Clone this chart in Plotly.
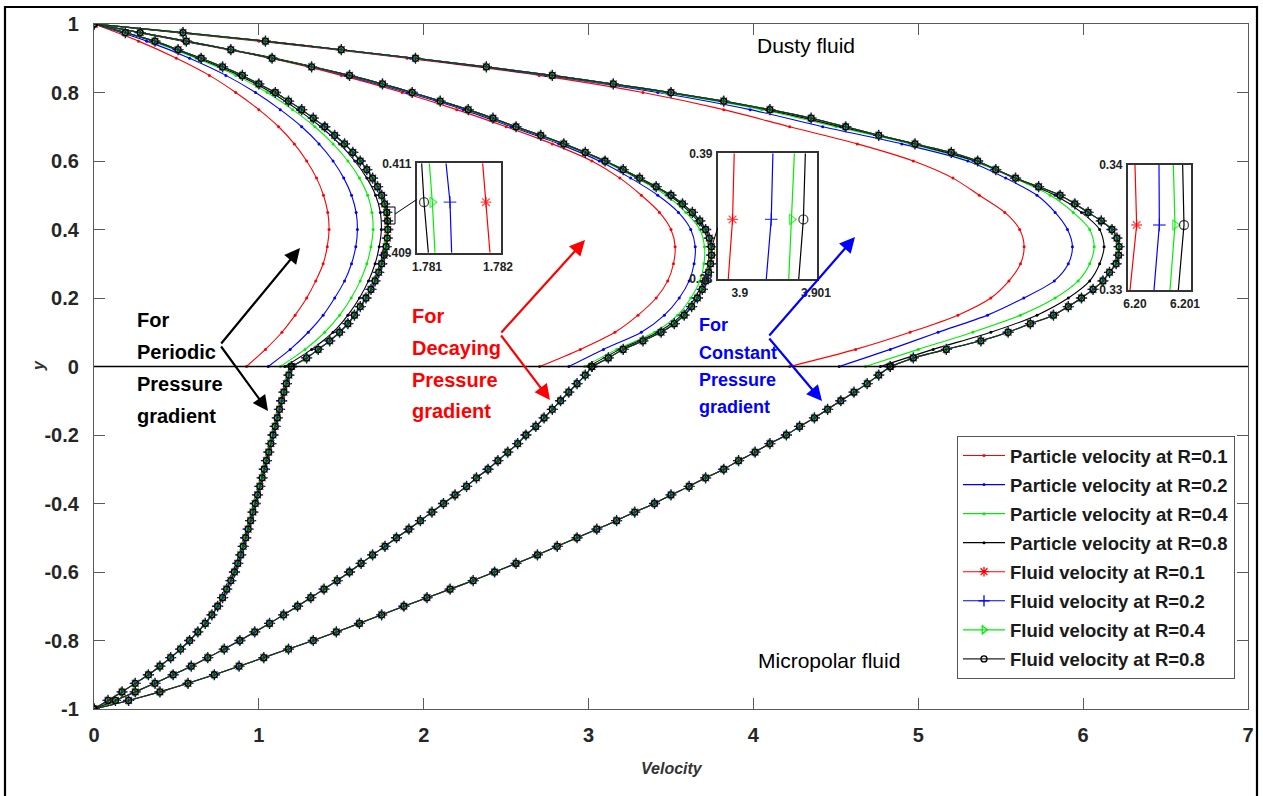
import plotly.graph_objects as go

# ---------------- data ----------------
X_TICKS = [0, 1, 2, 3, 4, 5, 6, 7]
X_TICK_TEXT = ["0", "1", "2", "3", "4", "5", "6", "7"]
Y_TICKS = [-1, -0.8, -0.6, -0.4, -0.2, 0, 0.2, 0.4, 0.6, 0.8, 1]
Y_TICK_TEXT = ["-1", "-0.8", "-0.6", "-0.4", "-0.2", "0", "0.2", "0.4", "0.6", "0.8", "1"]

# particle-velocity y grid (dusty-fluid region)
Y_P = [0, 0.05, 0.1, 0.15, 0.2, 0.25, 0.3, 0.35, 0.4, 0.45, 0.5,
       0.55, 0.6, 0.65, 0.7, 0.75, 0.8, 0.85, 0.9, 0.95, 1.0]
# fluid-velocity y grids
Y_FU = [0, 0.025, 0.05, 0.075, 0.1, 0.125, 0.15, 0.175, 0.2, 0.225, 0.25, 0.275, 0.3, 0.325,
        0.35, 0.375, 0.4, 0.425, 0.45, 0.475, 0.5, 0.525, 0.55, 0.575, 0.6, 0.625, 0.65, 0.675,
        0.7, 0.725, 0.75, 0.775, 0.8, 0.825, 0.85, 0.875, 0.9, 0.925, 0.95, 0.975, 1.0]
Y_FD = [-1.0, -0.975, -0.95, -0.925, -0.9, -0.875, -0.85, -0.825, -0.8, -0.775, -0.75, -0.725,
        -0.7, -0.675, -0.65, -0.625, -0.6, -0.575, -0.55, -0.525, -0.5, -0.475, -0.45, -0.425,
        -0.4, -0.375, -0.35, -0.325, -0.3, -0.275, -0.25, -0.225, -0.2, -0.175, -0.15, -0.125,
        -0.1, -0.075, -0.05, -0.025, 0.0]

# Particle velocity, periodic pressure gradient
P_PER_R01 = [0.925, 1.04, 1.14, 1.22, 1.29, 1.345, 1.39, 1.415, 1.426, 1.418, 1.392, 1.35, 1.29, 1.215, 1.12, 1.0, 0.86, 0.70, 0.50, 0.27, 0]
P_PER_R02 = [1.057, 1.19, 1.30, 1.39, 1.46, 1.52, 1.562, 1.588, 1.598, 1.59, 1.562, 1.515, 1.45, 1.365, 1.26, 1.13, 0.98, 0.80, 0.58, 0.32, 0]
P_PER_R04 = [1.131, 1.28, 1.40, 1.49, 1.56, 1.615, 1.655, 1.68, 1.693, 1.686, 1.66, 1.61, 1.54, 1.45, 1.34, 1.205, 1.05, 0.86, 0.62, 0.35, 0]
P_PER_R08 = [1.158, 1.32, 1.45, 1.54, 1.61, 1.665, 1.705, 1.73, 1.743, 1.737, 1.708, 1.655, 1.582, 1.49, 1.375, 1.235, 1.075, 0.88, 0.635, 0.36, 0]
# Particle velocity, decaying pressure gradient
P_DEC_R01 = [2.703, 2.95, 3.16, 3.30, 3.41, 3.48, 3.515, 3.525, 3.50, 3.43, 3.32, 3.19, 3.02, 2.78, 2.50, 2.20, 1.87, 1.50, 1.07, 0.54, 0]
P_DEC_R02 = [2.88, 3.09, 3.32, 3.46, 3.55, 3.61, 3.64, 3.647, 3.62, 3.545, 3.42, 3.255, 3.065, 2.82, 2.53, 2.24, 1.90, 1.525, 1.085, 0.545, 0]
P_DEC_R04 = [2.976, 3.17, 3.40, 3.54, 3.62, 3.675, 3.70, 3.703, 3.675, 3.59, 3.47, 3.29, 3.09, 2.84, 2.55, 2.26, 1.92, 1.54, 1.095, 0.55, 0]
P_DEC_R08 = [3.00, 3.19, 3.42, 3.565, 3.645, 3.695, 3.725, 3.728, 3.70, 3.615, 3.49, 3.30, 3.10, 2.85, 2.555, 2.27, 1.93, 1.55, 1.10, 0.555, 0]
# Particle velocity, constant pressure gradient
P_CON_R01 = [4.22, 4.62, 4.95, 5.24, 5.44, 5.55, 5.62, 5.642, 5.615, 5.525, 5.37, 5.21, 4.97, 4.63, 4.22, 3.82, 3.33, 2.70, 1.90, 1.00, 0]
P_CON_R02 = [4.52, 4.83, 5.12, 5.42, 5.64, 5.825, 5.91, 5.935, 5.905, 5.83, 5.72, 5.53, 5.30, 4.90, 4.42, 3.98, 3.42, 2.74, 1.92, 1.02, 0]
P_CON_R04 = [4.68, 5.00, 5.33, 5.62, 5.83, 5.97, 6.04, 6.067, 6.04, 5.94, 5.80, 5.58, 5.33, 4.95, 4.50, 4.05, 3.46, 2.76, 1.94, 1.03, 0]
P_CON_R08 = [4.77, 5.09, 5.44, 5.72, 5.91, 6.04, 6.10, 6.127, 6.10, 5.99, 5.83, 5.59, 5.345, 4.97, 4.53, 4.08, 3.48, 2.77, 1.945, 1.035, 0]

# Fluid velocity (curves for R = 0.1 ... 0.8 coincide at plot scale)
F_PER_DN = [0, 0.085, 0.17, 0.25, 0.33, 0.40, 0.465, 0.525, 0.58, 0.63, 0.675, 0.715, 0.75, 0.78, 0.805, 0.83, 0.852, 0.872, 0.89, 0.905,
            0.92, 0.935, 0.95, 0.964, 0.978, 0.992, 1.006, 1.02, 1.033, 1.046, 1.06, 1.073, 1.086, 1.099, 1.112, 1.125, 1.138, 1.152, 1.167, 1.182, 1.198]
F_PER_UP = [1.198, 1.29, 1.36, 1.43, 1.49, 1.54, 1.58, 1.615, 1.65, 1.68, 1.705, 1.727, 1.745, 1.76, 1.772, 1.779, 1.782, 1.781, 1.776, 1.763,
            1.745, 1.72, 1.69, 1.655, 1.615, 1.57, 1.52, 1.46, 1.40, 1.33, 1.26, 1.18, 1.10, 1.00, 0.90, 0.78, 0.65, 0.51, 0.37, 0.19, 0]
F_DEC_DN = [0, 0.13, 0.25, 0.37, 0.48, 0.59, 0.69, 0.79, 0.885, 0.975, 1.065, 1.15, 1.235, 1.315, 1.395, 1.475, 1.55, 1.62, 1.69, 1.765,
            1.835, 1.91, 1.98, 2.05, 2.12, 2.19, 2.26, 2.32, 2.39, 2.45, 2.51, 2.57, 2.62, 2.68, 2.73, 2.78, 2.83, 2.88, 2.93, 2.98, 3.02]
F_DEC_UP = [3.02, 3.12, 3.21, 3.33, 3.44, 3.52, 3.58, 3.625, 3.66, 3.69, 3.71, 3.728, 3.74, 3.746, 3.745, 3.732, 3.71, 3.675, 3.63, 3.57,
            3.50, 3.41, 3.31, 3.21, 3.10, 2.98, 2.85, 2.71, 2.56, 2.42, 2.27, 2.10, 1.93, 1.75, 1.55, 1.32, 1.08, 0.83, 0.56, 0.28, 0]
F_CON_DN = [0, 0.21, 0.40, 0.57, 0.73, 0.88, 1.03, 1.18, 1.33, 1.47, 1.61, 1.745, 1.88, 2.02, 2.16, 2.30, 2.43, 2.56, 2.69, 2.81,
            2.93, 3.05, 3.17, 3.28, 3.40, 3.50, 3.61, 3.71, 3.82, 3.91, 4.01, 4.10, 4.20, 4.28, 4.37, 4.45, 4.53, 4.61, 4.69, 4.76, 4.83]
F_CON_UP = [4.83, 4.97, 5.17, 5.38, 5.545, 5.68, 5.82, 5.91, 5.99, 6.06, 6.12, 6.16, 6.20, 6.215, 6.218, 6.205, 6.175, 6.11, 6.03, 5.95,
            5.86, 5.73, 5.59, 5.47, 5.36, 5.20, 4.98, 4.76, 4.56, 4.35, 4.10, 3.82, 3.50, 3.15, 2.78, 2.38, 1.95, 1.50, 1.04, 0.54, 0]

# Inset (zoomed) fluid velocities: bottom, marker, top
INSET1_Y = [0.409, 0.41013, 0.411]
INSET1_X = {"0.1": [1.781887, 1.781831, 1.781784], "0.2": [1.781347, 1.781324, 1.781268],
            "0.4": [1.781113, 1.781075, 1.781033], "0.8": [1.781019, 1.780958, 1.780925]}
INSET2_Y = [0.38, 0.38474, 0.39]
INSET2_X = {"0.1": [3.899849, 3.899905, 3.899927], "0.2": [3.900348, 3.900413, 3.900435],
            "0.4": [3.900643, 3.900682, 3.900717], "0.8": [3.900774, 3.900835, 3.900861]}
INSET3_Y = [0.33, 0.3352, 0.34]
INSET3_X = {"0.1": [6.1999, 6.200033, 6.2], "0.2": [6.20038, 6.200487, 6.20048],
            "0.4": [6.2007, 6.2008, 6.200767], "0.8": [6.200867, 6.20098, 6.200953]}

R_VALUES = ["0.1", "0.2", "0.4", "0.8"]

# ---------------- styles ----------------
FONT = "Liberation Sans"
COLORS = {"0.1": "#ff0000", "0.2": "#0000ff", "0.4": "#00ee00", "0.8": "#000000"}
FLUID_SYMBOL = {"0.1": "asterisk-open", "0.2": "cross-thin-open", "0.4": "triangle-right-open", "0.8": "circle-open"}
FLUID_SIZE = {"0.1": 8, "0.2": 8, "0.4": 7, "0.8": 6}

PARTICLES = {
    "0.1": (P_PER_R01, P_DEC_R01, P_CON_R01),
    "0.2": (P_PER_R02, P_DEC_R02, P_CON_R02),
    "0.4": (P_PER_R04, P_DEC_R04, P_CON_R04),
    "0.8": (P_PER_R08, P_DEC_R08, P_CON_R08),
}

def joined(xs_list, ys_list):
    X, Y = [], []
    for i, (xs, ys) in enumerate(zip(xs_list, ys_list)):
        if i:
            X.append(None)
            Y.append(None)
        X += list(xs)
        Y += list(ys)
    return X, Y

fig = go.Figure()

for r in R_VALUES:
    x, y = joined(PARTICLES[r], [Y_P, Y_P, Y_P])
    fig.add_trace(go.Scatter(
        x=x, y=y, mode="lines+markers", name=f"Particle velocity at R={r}",
        line=dict(color=COLORS[r], width=1.1, shape="spline", smoothing=0.8),
        marker=dict(size=3, color=COLORS[r]), legendgroup=f"p{r}"))

fluid_x = [F_PER_DN, F_PER_UP, F_DEC_DN, F_DEC_UP, F_CON_DN, F_CON_UP]
fluid_y = [Y_FD, Y_FU, Y_FD, Y_FU, Y_FD, Y_FU]
for r in R_VALUES:
    x, y = joined(fluid_x, fluid_y)
    fig.add_trace(go.Scatter(
        x=x, y=y, mode="lines+markers", name=f"Fluid velocity at R={r}",
        line=dict(color=COLORS[r] if r != "0.8" else "#222222", width=1.1, shape="spline", smoothing=0.6),
        marker=dict(symbol=FLUID_SYMBOL[r], size=FLUID_SIZE[r], color=COLORS[r],
                    line=dict(width=1.3, color=COLORS[r])),
        legendgroup=f"f{r}"))

# insets
for k, (iy, ix) in enumerate([(INSET1_Y, INSET1_X), (INSET2_Y, INSET2_X), (INSET3_Y, INSET3_X)], start=2):
    for r in R_VALUES:
        fig.add_trace(go.Scatter(
            x=ix[r], y=iy, mode="lines+markers", showlegend=False,
            xaxis=f"x{k}", yaxis=f"y{k}",
            line=dict(color=COLORS[r], width=1.2),
            marker=dict(symbol=FLUID_SYMBOL[r], size=[0, 9, 0], color=COLORS[r],
                        line=dict(width=1.3, color=COLORS[r]))))

# ---------------- layout ----------------
W, H = 1263, 796
L, R, T, B = 94, 15, 24, 87
PW, PH = W - L - R, H - T - B

def dx(px):
    return (px - L) / PW * 7.0

def dy(py):
    return 1.0 - (py - T) / PH * 2.0

def pxp(px):
    return (px - L) / PW

def pyp(py):
    return (H - B - py) / PH

tickfont = dict(family=FONT, size=20, color="#262626", weight="bold")
axis_common = dict(showgrid=False, zeroline=False, showline=True, linecolor="#5a5a5a", linewidth=1.2,
                   mirror="ticks", ticks="inside", ticklen=11, tickcolor="#5a5a5a", tickwidth=1.1,
                   tickfont=tickfont, automargin=False)

inset_font = dict(family=FONT, size=12, color="#222", weight="bold")

def inset_axes(x0, x1, y0, y1, xr, yr, xt, xtt, yt, ytt):
    xa = dict(domain=[pxp(x0), pxp(x1)], range=xr, tickvals=xt, ticktext=xtt, showgrid=False,
              zeroline=False, showline=True, mirror=True, linecolor="#333", linewidth=1.5,
              ticks="", tickfont=inset_font, ticklabelstandoff=2, automargin=False)
    ya = dict(domain=[pyp(y1), pyp(y0)], range=yr, tickvals=yt, ticktext=ytt, showgrid=False,
              zeroline=False, showline=True, mirror=True, linecolor="#333", linewidth=1.5,
              ticks="", tickfont=inset_font, ticklabelstandoff=1, automargin=False)
    return xa, ya

xa2, ya2 = inset_axes(416.7, 500.7, 163.3, 252.7, [1.780855, 1.782038], [0.409, 0.411],
                      [1.781, 1.782], ["1.781", "1.782"], [0.409, 0.411], ["0.409", "0.411"])
xa3, ya3 = inset_axes(717.7, 816.7, 153.3, 279, [3.89971, 3.90101], [0.38, 0.39],
                      [3.9, 3.901], ["3.9", "3.901"], [0.38, 0.39], ["0.38", "0.39"])
xa4, ya4 = inset_axes(1127.7, 1191, 165, 290, [6.199854, 6.20112], [0.33, 0.34],
                      [6.2, 6.201], ["6.20", "6.201"], [0.33, 0.34], ["0.33", "0.34"])
xa2["anchor"], ya2["anchor"] = "y2", "x2"
xa3["anchor"], ya3["anchor"] = "y3", "x3"
xa4["anchor"], ya4["anchor"] = "y4", "x4"

annotations = []

def text(px, py, s, color, size, bold=True, anchor="left"):
    annotations.append(dict(x=dx(px), y=dy(py), xref="x", yref="y", text=(f"<b>{s}</b>" if bold else s),
                            showarrow=False, xanchor=anchor, yanchor="middle",
                            font=dict(family=FONT, size=size, color=color)))

for s, py in zip(["For", "Periodic", "Pressure", "gradient"], [320, 352, 384, 416]):
    text(135, py, s, "#000000", 20)
for s, py in zip(["For", "Decaying", "Pressure", "gradient"], [316, 348, 380, 411]):
    text(410, py, s, "#ff0000", 20)
for s, py in zip(["For", "Constant", "Pressure", "gradient"], [325, 353, 380, 407]):
    text(697, py, s, "#0000ff", 18)

text(806, 45, "Dusty fluid", "#000000", 21, bold=False, anchor="center")
text(829, 660, "Micropolar fluid", "#000000", 21, bold=False, anchor="center")

def arrow(x0, y0, x1, y1, color):
    annotations.append(dict(x=dx(x1), y=dy(y1), ax=dx(x0), ay=dy(y0), xref="x", yref="y",
                            axref="x", ayref="y", text="", showarrow=True, arrowhead=2,
                            arrowsize=1.4, arrowwidth=2.2, arrowcolor=color))

arrow(220, 345, 300, 248, "#000000")
arrow(220, 345, 268, 411, "#000000")
arrow(500, 334, 585, 240, "#ff0000")
arrow(500, 334, 550, 400, "#ff0000")
arrow(768, 337, 855, 237, "#0000ff")
arrow(768, 337, 822, 401, "#0000ff")

# axis titles
annotations.append(dict(x=pxp(672), y=pyp(768), xref="paper", yref="paper", text="<b><i>Velocity</i></b>",
                        showarrow=False, xanchor="center", yanchor="middle",
                        font=dict(family=FONT, size=16, color="#333")))
annotations.append(dict(x=pxp(38), y=pyp(366), xref="paper", yref="paper", text="<b><i>y</i></b>",
                        showarrow=False, textangle=-90, xanchor="center", yanchor="middle",
                        font=dict(family=FONT, size=16, color="#333")))

shapes = [
    # y = 0 line
    dict(type="line", xref="x", yref="y", x0=0, x1=7, y0=0, y1=0, line=dict(color="#000", width=1.4)),
    # zoom marker on periodic curve and connector
    dict(type="rect", xref="x", yref="y", x0=dx(387), x1=dx(395), y0=dy(224), y1=dy(207),
         line=dict(color="#000", width=1)),
    dict(type="line", xref="x", yref="y", x0=dx(395), y0=dy(214), x1=dx(416.7), y1=dy(199.5),
         line=dict(color="#000", width=1)),
    dict(type="line", xref="x", yref="y", x0=dx(717.7), y0=dy(228), x1=dx(712), y1=dy(246),
         line=dict(color="#000", width=1)),
    # outer frame of the picture
    dict(type="rect", xref="paper", yref="paper", x0=pxp(5), x1=pxp(1257), y0=pyp(812), y1=pyp(7),
         line=dict(color="#000", width=2.2), layer="below"),
]

fig.update_layout(
    width=W, height=H, margin=dict(l=L, r=R, t=T, b=B, autoexpand=False),
    paper_bgcolor="white", plot_bgcolor="white",
    font=dict(family=FONT),
    xaxis=dict(range=[0, 7], tickvals=X_TICKS, ticktext=X_TICK_TEXT, ticklabelstandoff=8, **axis_common),
    yaxis=dict(range=[-1, 1], tickvals=Y_TICKS, ticktext=Y_TICK_TEXT, ticklabelstandoff=10, **axis_common),
    xaxis2=xa2, yaxis2=ya2, xaxis3=xa3, yaxis3=ya3, xaxis4=xa4, yaxis4=ya4,
    showlegend=True,
    legend=dict(x=pxp(957), y=pyp(436), xanchor="left", yanchor="top",
                bgcolor="white", bordercolor="#555", borderwidth=1,
                font=dict(family=FONT, size=18.5, color="#1a1a1a", weight="bold"),
                itemwidth=42, tracegroupgap=2, traceorder="grouped"),
    annotations=annotations, shapes=shapes,
)

fig.write_html("out.html", config={"responsive": False})
